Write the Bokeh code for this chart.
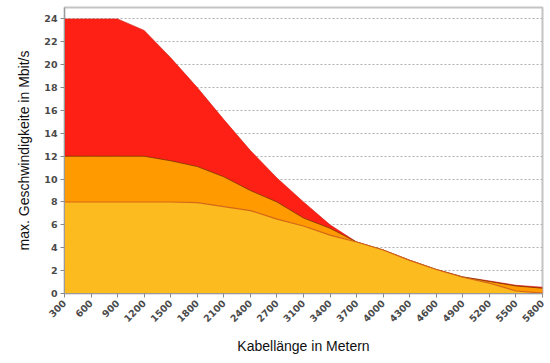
from bokeh.plotting import figure
from bokeh.models import FixedTicker, Range1d
from bokeh.embed import file_html
from bokeh.resources import INLINE

# Cable length categories (metres)
lengths = ["300", "600", "900", "1200", "1500", "1800", "2100", "2400", "2700",
           "3100", "3400", "3700", "4000", "4300", "4600", "4900", "5200", "5500", "5800"]
# Max speed in Mbit/s
adsl2plus = [24, 24, 24, 23, 20.6, 18.0, 15.2, 12.5, 10.1, 8.0, 6.0, 4.5, 3.8, 2.9, 2.1, 1.45, 1.1, 0.72, 0.55]
adsl2 = [12, 12, 12, 12, 11.6, 11.1, 10.2, 9.0, 8.0, 6.6, 5.7, 4.5, 3.8, 2.9, 2.1, 1.45, 1.05, 0.66, 0.46]
adsl = [8, 8, 8, 8, 8, 7.95, 7.6, 7.25, 6.5, 5.9, 5.1, 4.5, 3.8, 2.9, 2.1, 1.42, 0.9, 0.22, 0.03]
y_ticks = list(range(0, 25, 2))

xs = list(range(len(lengths)))

p = figure(width=550, height=357, output_backend="svg", toolbar_location=None,
           x_range=Range1d(0, len(lengths) - 1), y_range=Range1d(0, 25),
           min_border_left=64, min_border_right=8, min_border_top=7, min_border_bottom=10)

p.background_fill_color = "white"
p.border_fill_color = "white"
p.outline_line_color = "#c4c4c4"
p.outline_line_width = 2

p.varea(x=xs, y1=0, y2=adsl2plus, fill_color="#ff2015")
p.line(x=xs, y=adsl2plus, line_color="#d01810", line_width=1, line_alpha=0.6)
p.varea(x=xs, y1=0, y2=adsl2, fill_color="#ff9a00")
p.line(x=xs, y=adsl2, line_color="#6a3000", line_width=1, line_alpha=0.7)
p.varea(x=xs, y1=0, y2=adsl, fill_color="#fcbb1e")
p.line(x=xs, y=adsl, line_color="#d0601a", line_width=1.2, line_alpha=0.9)

# grid
p.xgrid.visible = False
p.ygrid.ticker = FixedTicker(ticks=y_ticks)
p.ygrid.grid_line_color = "#b0b0b0"
p.ygrid.grid_line_dash = "2 2"
p.ygrid.grid_line_width = 1

# axes
p.xaxis.ticker = FixedTicker(ticks=xs)
p.xaxis.major_label_overrides = {i: s for i, s in enumerate(lengths)}
p.xaxis.major_label_orientation = 0.785398
p.yaxis.ticker = FixedTicker(ticks=y_ticks)

for ax in (p.xaxis[0], p.yaxis[0]):
    ax.axis_line_color = "#9a9a9a"
    ax.axis_line_width = 1
    ax.major_tick_line_color = "#8a8a8a"
    ax.major_tick_out = 4
    ax.major_tick_in = 0
    ax.minor_tick_line_color = None
    ax.major_label_text_font = "DejaVu Sans"
    ax.major_label_text_font_style = "bold"
    ax.major_label_text_font_size = "9.5px"
    ax.major_label_text_color = "#4a4a4a"
    ax.axis_label_text_font = "Liberation Sans"
    ax.axis_label_text_font_style = "normal"
    ax.axis_label_text_font_size = "14px"
    ax.axis_label_text_color = "#111111"

p.xaxis.axis_label = "Kabellänge in Metern"
p.yaxis.axis_label = "max. Geschwindigkeite in Mbit/s"
p.xaxis.major_label_standoff = 4
p.yaxis.major_label_standoff = 3
p.xaxis.axis_label_standoff = 10
p.yaxis.axis_label_standoff = 9

open("out.html", "w").write(file_html(p, INLINE))
